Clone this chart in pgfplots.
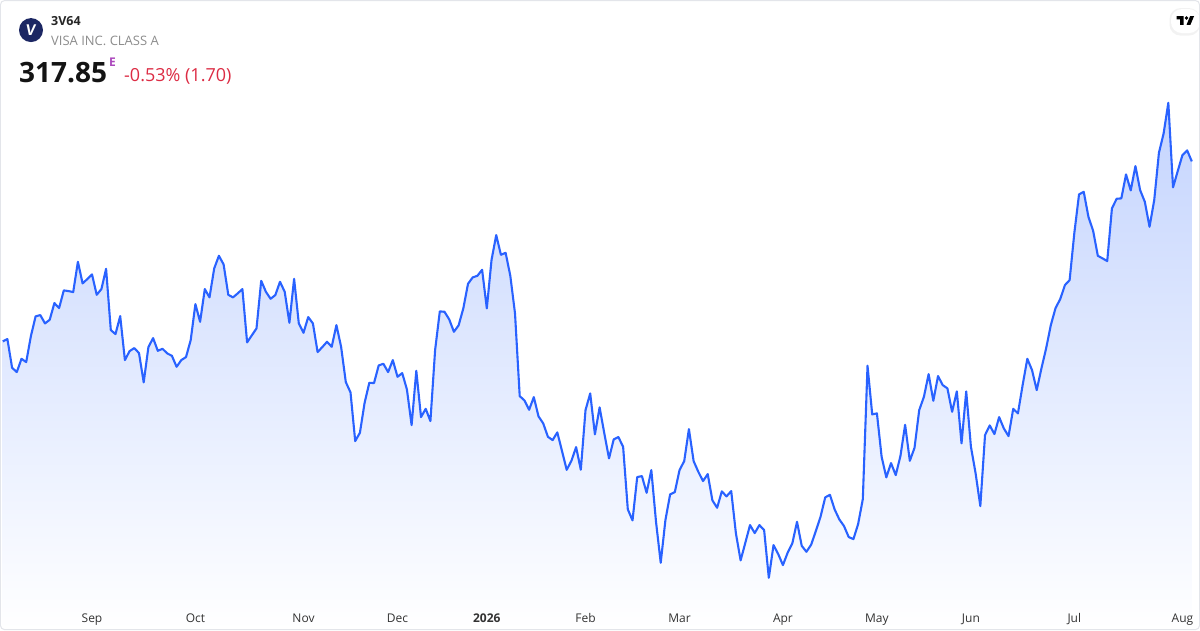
\documentclass[border=0pt]{standalone}
\usepackage{pgfplots}
\usepackage{pgfplotstable}
\usepackage{fontspec}
\setmainfont{Open Sans}
\pgfplotsset{compat=1.18}
\definecolor{tvline}{HTML}{2962FF}
\definecolor{tvtop}{HTML}{C4D4FE}
\definecolor{tvborder}{HTML}{E3E5EA}
\definecolor{tvnavy}{HTML}{1C2763}
\definecolor{tvgrey}{HTML}{8C8C8C}
\definecolor{tvred}{HTML}{DC2C44}
\definecolor{tvpurple}{HTML}{AB47BC}
\definecolor{tvtick}{HTML}{333333}
\newcommand{\fs}[1]{\fontsize{#1bp}{#1bp}\selectfont}
\pgfplotstableread[row sep=\\]{
i h\\
0 288.7\\ 1 291\\ 2 262.3\\ 3 258\\ 4 271.3\\ 5 268\\ 6 294\\ 7 313.7\\ 8 315\\ 9 306.7\\
10 310.3\\ 11 327\\ 12 322\\ 13 339.7\\ 14 339\\ 15 338\\ 16 368.3\\ 17 346.7\\ 18 351\\ 19 355.7\\
20 335.3\\ 21 341\\ 22 361.3\\ 23 300\\ 24 296\\ 25 314\\ 26 270\\ 27 279\\ 28 282\\ 29 277\\
30 247.7\\ 31 283\\ 32 292\\ 33 279.3\\ 34 281.3\\ 35 276.7\\ 36 274.3\\ 37 263.3\\ 38 270\\ 39 273\\
40 290\\ 41 326\\ 42 308.3\\ 43 341\\ 44 332.7\\ 45 361.7\\ 46 374.3\\ 47 365.7\\ 48 335.3\\ 49 332.7\\
50 336.7\\ 51 341\\ 52 287.7\\ 53 294.7\\ 54 301.7\\ 55 349.3\\ 56 338.3\\ 57 331.3\\ 58 335\\ 59 348.3\\
60 338.3\\ 61 307.3\\ 62 351.3\\ 63 306.7\\ 64 297.3\\ 65 313\\ 66 306.7\\ 67 278\\ 68 283\\ 69 288.3\\
70 283.3\\ 71 305\\ 72 283.3\\ 73 248\\ 74 237.7\\ 75 189\\ 76 197.3\\ 77 227.3\\ 78 247.3\\ 79 247\\
80 264.7\\ 81 266.3\\ 82 258\\ 83 270\\ 84 253.3\\ 85 257\\ 86 240.7\\ 87 205\\ 88 259.3\\ 89 213\\
90 221.3\\ 91 209\\ 92 280\\ 93 318.7\\ 94 318.3\\ 95 310.7\\ 96 298.3\\ 97 304.7\\ 98 321.7\\ 99 346.3\\
100 352.7\\ 101 354.3\\ 102 360.3\\ 103 321.7\\ 104 370\\ 105 395\\ 106 375.3\\ 107 377.3\\ 108 354.3\\ 109 316.7\\
110 234\\ 111 229.7\\ 112 220.3\\ 113 233\\ 114 213.7\\ 115 206.7\\ 116 193.3\\ 117 190\\ 118 197.7\\ 119 179\\
120 160.3\\ 121 169.3\\ 122 183\\ 123 160.3\\ 124 220\\ 125 236.7\\ 126 195.7\\ 127 222.7\\ 128 196.7\\ 129 171.7\\
130 190.7\\ 131 193\\ 132 183.3\\ 133 120.7\\ 134 109.7\\ 135 153\\ 136 154\\ 137 137.3\\ 138 160\\ 139 108.3\\
140 67.3\\ 141 110\\ 142 135.7\\ 143 138\\ 144 160\\ 145 169\\ 146 201\\ 147 169\\ 148 158.3\\ 149 149\\
150 156\\ 151 129.7\\ 152 122.3\\ 153 138.7\\ 154 133.7\\ 155 139\\ 156 96.7\\ 157 69.7\\ 158 87.3\\ 159 105\\
160 97\\ 161 105\\ 162 100\\ 163 52.3\\ 164 85\\ 165 76\\ 166 65\\ 167 77.3\\ 168 86.7\\ 169 108.3\\
170 84.3\\ 171 78.3\\ 172 85.3\\ 173 99\\ 174 113.3\\ 175 132.7\\ 176 135.3\\ 177 120.7\\ 178 110.7\\ 179 104\\
180 93\\ 181 91\\ 182 106\\ 183 131\\ 184 264.3\\ 185 215.7\\ 186 216.7\\ 187 173.3\\ 188 152.7\\ 189 167\\
190 155\\ 191 174\\ 192 205.3\\ 193 169.3\\ 194 182.3\\ 195 220\\ 196 233.3\\ 197 256\\ 198 229.3\\ 199 254\\
200 245\\ 201 241.7\\ 202 218.3\\ 203 238.7\\ 204 186.7\\ 205 238.7\\ 206 183.3\\ 207 156.7\\ 208 124\\ 209 195\\
210 204.7\\ 211 196\\ 212 213\\ 213 201.7\\ 214 194\\ 215 221.3\\ 216 216.7\\ 217 245\\ 218 271.3\\ 219 260\\
220 240\\ 221 261.7\\ 222 281.7\\ 223 305\\ 224 322\\ 225 331\\ 226 345\\ 227 350\\ 228 397\\ 229 435.7\\
230 438.3\\ 231 413.3\\ 232 399.3\\ 233 374.3\\ 234 371.7\\ 235 369\\ 236 421.7\\ 237 431.3\\ 238 431.7\\ 239 455.7\\
240 439.7\\ 241 464\\ 242 440\\ 243 428.3\\ 244 403.3\\ 245 430\\ 246 477.3\\ 247 496.7\\ 248 527.3\\ 249 442.7\\
250 459\\ 251 475\\ 252 479.7\\ 253 468.7\\
}\pricedata
\begin{document}
\begin{tikzpicture}
\begin{scope}[x=1bp,y=1bp]
\useasboundingbox (0,0) rectangle (1200,630);
\end{scope}
\begin{axis}[
  at={(0,0)}, anchor=south west,
  scale only axis, width=1200bp, height=630bp,
  xmin=-0.5745, xmax=254.74, ymin=0, ymax=630,
  axis on top,
  axis line style={draw=none},
  major tick length=0pt,
  ytick=\empty,
  xtick={19,41,64,84,103,124,144,166,186,206,228,251},
  xticklabels={Sep,Oct,Nov,Dec,\textbf{2026},Feb,Mar,Apr,May,Jun,Jul,Aug},
  xticklabel style={anchor=base, yshift=8bp, font=\fs{12}, text=tvtick},
]
\addplot[draw=none, top color=tvtop, bottom color=white] table[x=i,y=h] {\pricedata} \closedcycle;
\addplot[tvline, line width=2.1bp, line join=round, no markers] table[x=i,y=h] {\pricedata};
\end{axis}
\begin{scope}[x=1bp,y=1bp]
% card border
\draw[tvborder, line width=1bp, rounded corners=4bp] (0.5,0.5) rectangle (1199.5,629.5);
% header
\fill[tvnavy] (31,600) circle (12);
\node[text=white, font=\fs{15}\bfseries, inner sep=0pt, xslant=0.12] at (31,600) {V};
\node[anchor=base west, inner sep=0pt, font=\fs{12.5}\bfseries, text=black!85] at (51,605) {3V64};
\node[anchor=base west, inner sep=0pt, font=\fs{13}, text=tvgrey] at (51,585) {VISA INC. CLASS A};
\node[anchor=base west, inner sep=0pt, font=\fs{28}\bfseries, text=black!92] at (19,548) {317.85};
\node[anchor=base west, inner sep=0pt, font=\fs{12}\bfseries, text=tvpurple] at (109,564) {E};
\node[anchor=base west, inner sep=0pt, font=\fs{18}, text=tvred] at (124,549) {-0.53\% (1.70)};
% logo badge
\fill[black, opacity=0.05, rounded corners=11bp] (1169.5,594.5) rectangle (1200,622);
\fill[white, rounded corners=11bp] (1171,597) rectangle (1200,621);
\draw[tvborder, line width=1bp] (1199.5,590) -- (1199.5,625);
\begin{scope}[shift={(1176.7,616)}, x=0.49bp, y=-0.49bp]
\fill[black] (14,22) -- (7,22) -- (7,11) -- (0,11) -- (0,4) -- (14,4) -- cycle;
\fill[black] (28,22) -- (20,22) -- (27.5,4) -- (35.5,4) -- cycle;
\fill[black] (20,8) circle (4);
\end{scope}
\end{scope}
\end{tikzpicture}
\end{document}
